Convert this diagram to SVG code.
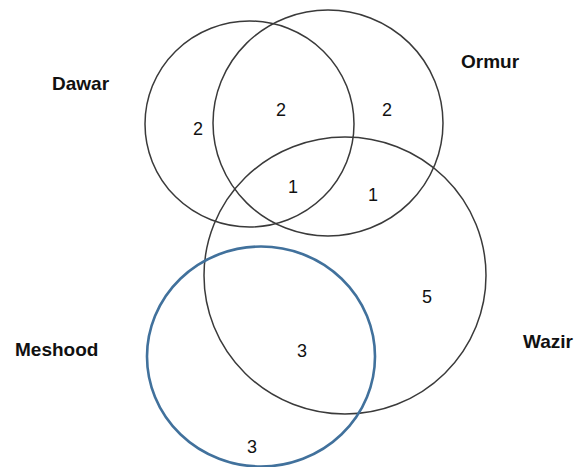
<svg xmlns="http://www.w3.org/2000/svg" width="579" height="467" viewBox="0 0 579 467">
<style>
.c{fill:none;stroke:#3a3a3a;stroke-width:1.5}
.b{fill:none;stroke:#41719c;stroke-width:2.6}
.n{font-family:"Liberation Sans",Arial,sans-serif;font-size:18px;fill:#111;text-anchor:middle}
.l{font-family:"Liberation Sans",Arial,sans-serif;font-size:19px;font-weight:bold;fill:#111}
</style>
<rect width="579" height="467" fill="#fff"/>
<g id="dawar"><ellipse class="c" cx="249.5" cy="124" rx="104.5" ry="103"/><text class="l" x="52" y="90">Dawar</text></g>
<g id="ormur"><ellipse class="c" cx="328" cy="123" rx="115" ry="113"/><text class="l" x="461" y="68">Ormur</text></g>
<g id="wazir"><ellipse class="c" cx="345" cy="275.5" rx="141" ry="138.5"/><text class="l" x="523" y="348">Wazir</text></g>
<g id="meshood"><ellipse class="b" cx="261" cy="356.5" rx="114" ry="110"/><text class="l" x="15" y="356">Meshood</text></g>
<g id="counts">
<text class="n" x="198" y="135">2</text>
<text class="n" x="281" y="116">2</text>
<text class="n" x="387" y="116">2</text>
<text class="n" x="293" y="193">1</text>
<text class="n" x="373" y="201">1</text>
<text class="n" x="427" y="303">5</text>
<text class="n" x="302" y="357">3</text>
<text class="n" x="252" y="453">3</text>
</g>
</svg>
